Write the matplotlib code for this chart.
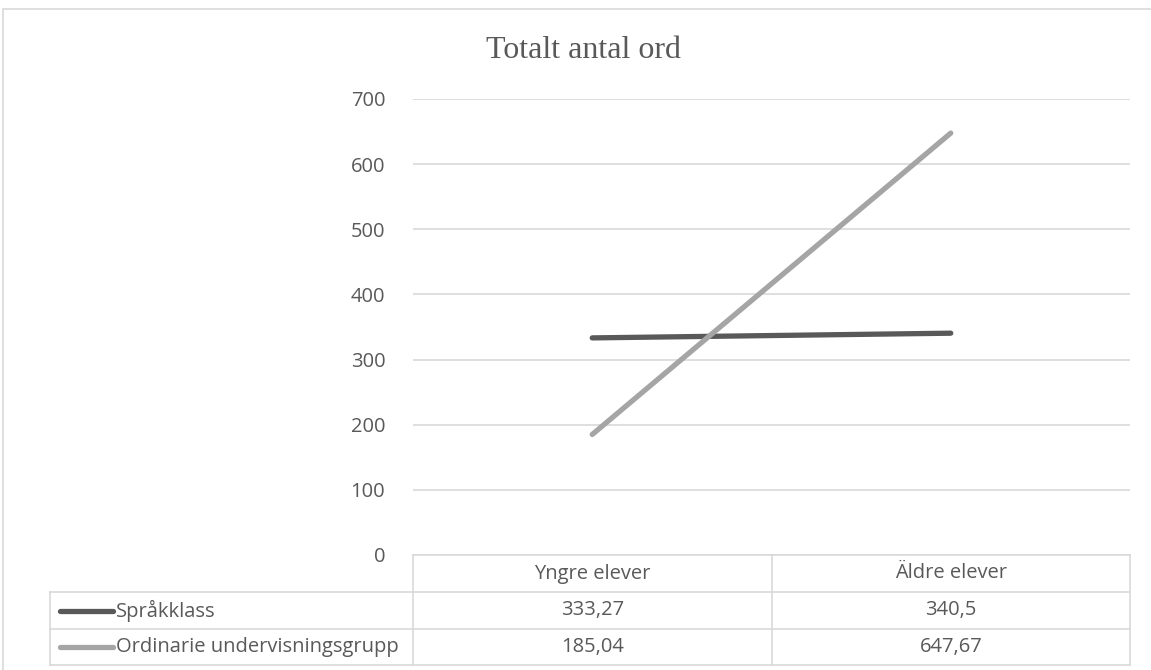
import matplotlib.pyplot as plt
from matplotlib.lines import Line2D
from matplotlib.patches import Rectangle

# data
categories = ["Yngre elever", "Äldre elever"]
series_names = ["Språkklass", "Ordinarie undervisningsgrupp"]
sprakklass = [333.27, 340.5]
ordinarie = [185.04, 647.67]
value_labels = [["333,27", "340,5"], ["185,04", "647,67"]]
yticks = [0, 100, 200, 300, 400, 500, 600, 700]

colors = ["#595959", "#a5a5a5"]
grid_c = "#d9d9d9"
text_c = "#595959"
font = "Open Sans"
fs = 14.5

W, H = 1151, 670
fig = plt.figure(figsize=(W / 100, H / 100), dpi=100)


def fx(px):
    return px / W


def fy(py):
    return 1 - py / H


# outer frame
fig.patches.append(Rectangle((fx(3), fy(700)), fx(1200), fy(9) - fy(700),
                             transform=fig.transFigure, fill=False,
                             edgecolor=grid_c, linewidth=1.2))

# plot area
left, right, top, bottom = 413, 1130, 99, 555
ax = fig.add_axes([fx(left), fy(bottom), fx(right - left), fy(top) - fy(bottom)])
ax.set_xlim(-0.5, len(categories) - 0.5)
ax.set_ylim(0, 700)
ax.set_yticks(yticks)
ax.set_yticklabels([str(v) for v in yticks], fontfamily=font, fontsize=fs, color=text_c)
ax.set_xticks([])
ax.tick_params(axis="y", length=0, pad=20)
for s in ax.spines.values():
    s.set_visible(False)
ax.grid(axis="y", color=grid_c, linewidth=1.2)
ax.set_axisbelow(True)

x = list(range(len(categories)))
for vals, c in zip([sprakklass, ordinarie], colors):
    ax.plot(x, vals, color=c, linewidth=3.8, solid_capstyle="round")

fig.text(fx(583), fy(58), "Totalt antal ord", ha="center", va="baseline",
         fontfamily="Liberation Serif", fontsize=23, color=text_c)

# data table
row_y = [555, 592, 629, 665]
col_x = [50, 413, 772, 1130]


def hline(py, x0, x1):
    fig.add_artist(Line2D([fx(x0), fx(x1)], [fy(py), fy(py)], color=grid_c, linewidth=1.2))


def vline(px, y0, y1):
    fig.add_artist(Line2D([fx(px), fx(px)], [fy(y0), fy(y1)], color=grid_c, linewidth=1.2))


hline(row_y[0], col_x[1], col_x[3])
for py in row_y[1:]:
    hline(py, col_x[0], col_x[3])
vline(col_x[0], row_y[1], row_y[3])
for px in col_x[1:]:
    vline(px, row_y[0], row_y[3])

for j, cat in enumerate(categories):
    cx = (col_x[j + 1] + col_x[j + 2]) / 2
    fig.text(fx(cx), fy((row_y[0] + row_y[1]) / 2), cat, ha="center", va="center",
             fontfamily=font, fontsize=fs, color=text_c)

for i, name in enumerate(series_names):
    cy = (row_y[i + 1] + row_y[i + 2]) / 2
    fig.add_artist(Line2D([fx(60), fx(113)], [fy(cy), fy(cy)], color=colors[i],
                          linewidth=3.8, solid_capstyle="round"))
    fig.text(fx(116), fy(cy), name, ha="left", va="center",
             fontfamily=font, fontsize=fs, color=text_c)
    for j in range(len(categories)):
        cx = (col_x[j + 1] + col_x[j + 2]) / 2
        fig.text(fx(cx), fy(cy), value_labels[i][j], ha="center", va="center",
                 fontfamily=font, fontsize=fs, color=text_c)

fig.savefig("out.png", dpi=100)
